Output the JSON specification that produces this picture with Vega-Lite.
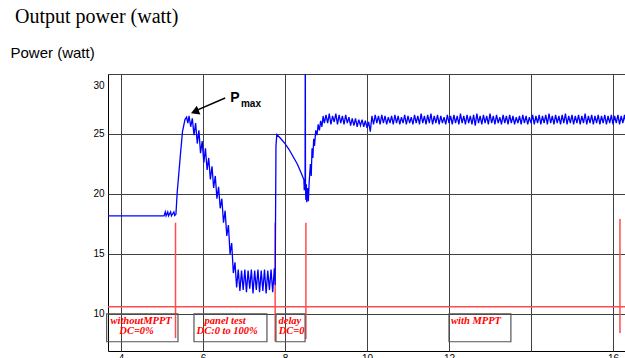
{
  "$schema": "https://vega.github.io/schema/vega-lite/v6.json",
  "width": 517,
  "height": 277,
  "autosize": {"type": "none"},
  "padding": {"left": 108, "top": 74, "right": 0, "bottom": 7},
  "background": "white",
  "title": {
    "text": "Output power (watt)",
    "anchor": "start",
    "frame": "group",
    "font": "Liberation Serif",
    "fontSize": 20,
    "fontWeight": "normal",
    "color": "black",
    "dx": -93,
    "dy": -14
  },
  "config": {
    "view": {"stroke": "black", "strokeWidth": 1},
    "axis": {
      "domain": false,
      "ticks": false,
      "grid": true,
      "gridColor": "#404040",
      "gridOpacity": 1,
      "gridWidth": 1,
      "labelFont": "Liberation Sans",
      "labelFontSize": 10,
      "labelColor": "black"
    }
  },
  "datasets": {
    "power": [
      {"t": 3.68, "p": 18.17}, {"t": 5.05, "p": 18.17}, {"t": 5.08, "p": 18.5}, {"t": 5.1, "p": 18.17},
      {"t": 5.14, "p": 18.5}, {"t": 5.16, "p": 18.17}, {"t": 5.21, "p": 18.5}, {"t": 5.23, "p": 18.17},
      {"t": 5.29, "p": 18.5}, {"t": 5.31, "p": 18.2}, {"t": 5.34, "p": 18.3},
      {"t": 5.37, "p": 20.1}, {"t": 5.44, "p": 22.9}, {"t": 5.5, "p": 25.2}, {"t": 5.56, "p": 26.2},
      {"t": 5.6, "p": 26.4}, {"t": 5.63, "p": 25.9}, {"t": 5.66, "p": 26.5}, {"t": 5.7, "p": 25.6},
      {"t": 5.74, "p": 26.3}, {"t": 5.78, "p": 24.9}, {"t": 5.82, "p": 25.9}, {"t": 5.86, "p": 24.2},
      {"t": 5.9, "p": 25.3}, {"t": 5.94, "p": 23.4}, {"t": 5.98, "p": 24.4}, {"t": 6.02, "p": 22.6},
      {"t": 6.06, "p": 23.8}, {"t": 6.1, "p": 22.0}, {"t": 6.14, "p": 23.0}, {"t": 6.18, "p": 21.2},
      {"t": 6.22, "p": 22.3}, {"t": 6.26, "p": 20.5}, {"t": 6.3, "p": 21.5}, {"t": 6.34, "p": 19.6},
      {"t": 6.38, "p": 20.6}, {"t": 6.42, "p": 18.8}, {"t": 6.46, "p": 19.6}, {"t": 6.5, "p": 17.6},
      {"t": 6.54, "p": 18.6}, {"t": 6.58, "p": 16.5}, {"t": 6.62, "p": 17.4}, {"t": 6.66, "p": 15.0},
      {"t": 6.7, "p": 15.9}, {"t": 6.74, "p": 13.4}, {"t": 6.78, "p": 14.3}, {"t": 6.82, "p": 12.2},
      {"t": 6.86, "p": 13.7}, {"t": 6.9, "p": 11.9}, {"t": 6.94, "p": 13.6}, {"t": 6.98, "p": 12.0},
      {"t": 7.02, "p": 13.7}, {"t": 7.06, "p": 11.8}, {"t": 7.1, "p": 13.6}, {"t": 7.14, "p": 12.1},
      {"t": 7.18, "p": 13.7}, {"t": 7.22, "p": 11.7}, {"t": 7.26, "p": 13.6}, {"t": 7.3, "p": 12.0},
      {"t": 7.34, "p": 13.7}, {"t": 7.38, "p": 11.8}, {"t": 7.42, "p": 13.6}, {"t": 7.46, "p": 11.9},
      {"t": 7.5, "p": 13.7}, {"t": 7.54, "p": 11.7}, {"t": 7.58, "p": 13.6}, {"t": 7.62, "p": 12.0},
      {"t": 7.66, "p": 13.7}, {"t": 7.7, "p": 11.8}, {"t": 7.74, "p": 13.8}, {"t": 7.76, "p": 12.4},
      {"t": 7.78, "p": 24.0}, {"t": 7.8, "p": 24.95}, {"t": 7.9, "p": 24.6}, {"t": 8.0, "p": 24.2},
      {"t": 8.1, "p": 23.7}, {"t": 8.2, "p": 23.1}, {"t": 8.3, "p": 22.5}, {"t": 8.4, "p": 21.7},
      {"t": 8.46, "p": 21.2}, {"t": 8.47, "p": 20.3}, {"t": 8.48, "p": 21.0}, {"t": 8.49, "p": 21.0},
      {"t": 8.495, "p": 35.0}, {"t": 8.5, "p": 20.5}, {"t": 8.51, "p": 19.5}, {"t": 8.52, "p": 20.8},
      {"t": 8.53, "p": 19.3}, {"t": 8.55, "p": 20.5}, {"t": 8.57, "p": 19.4}, {"t": 8.59, "p": 21.0},
      {"t": 8.62, "p": 22.5}, {"t": 8.64, "p": 21.5}, {"t": 8.66, "p": 23.8}, {"t": 8.68, "p": 23.0},
      {"t": 8.7, "p": 24.6}, {"t": 8.72, "p": 24.0}, {"t": 8.75, "p": 25.3}, {"t": 8.78, "p": 24.9},
      {"t": 8.81, "p": 25.8}, {"t": 8.84, "p": 25.3}, {"t": 8.87, "p": 26.1}, {"t": 8.9, "p": 25.6},
      {"t": 8.93, "p": 26.5}, {"t": 8.96, "p": 25.9},
      {"t": 9.0, "p": 26.6}, {"t": 9.04, "p": 25.9}, {"t": 9.08, "p": 26.7}, {"t": 9.12, "p": 25.8},
      {"t": 9.16, "p": 26.5}, {"t": 9.2, "p": 26.0}, {"t": 9.24, "p": 26.7}, {"t": 9.28, "p": 25.8},
      {"t": 9.32, "p": 26.6}, {"t": 9.36, "p": 25.9}, {"t": 9.4, "p": 26.5}, {"t": 9.44, "p": 25.8},
      {"t": 9.48, "p": 26.6}, {"t": 9.52, "p": 25.9}, {"t": 9.56, "p": 26.4}, {"t": 9.6, "p": 25.7},
      {"t": 9.64, "p": 26.3}, {"t": 9.68, "p": 25.7}, {"t": 9.72, "p": 26.3}, {"t": 9.76, "p": 25.6},
      {"t": 9.8, "p": 26.2}, {"t": 9.84, "p": 25.7}, {"t": 9.88, "p": 26.2}, {"t": 9.92, "p": 25.6},
      {"t": 9.96, "p": 26.1}, {"t": 10.0, "p": 25.5}, {"t": 10.04, "p": 26.0}, {"t": 10.08, "p": 25.2},
      {"t": 10.12, "p": 26.5}, {"t": 10.16, "p": 25.8}, {"t": 10.2, "p": 26.6}, {"t": 10.24, "p": 25.9},
      {"t": 10.28, "p": 26.5}, {"t": 10.32, "p": 25.8}, {"t": 10.36, "p": 26.6}, {"t": 10.4, "p": 25.9},
      {"t": 10.44, "p": 26.5}, {"t": 10.48, "p": 25.8}, {"t": 10.52, "p": 26.4}, {"t": 10.56, "p": 25.9},
      {"t": 10.6, "p": 26.5}, {"t": 10.64, "p": 25.8}, {"t": 10.68, "p": 26.6}, {"t": 10.72, "p": 25.9},
      {"t": 10.76, "p": 26.5}, {"t": 10.8, "p": 25.8}, {"t": 10.84, "p": 26.4}, {"t": 10.88, "p": 25.9},
      {"t": 10.92, "p": 26.6}, {"t": 10.96, "p": 25.8}, {"t": 11.0, "p": 26.5}, {"t": 11.04, "p": 25.9},
      {"t": 11.08, "p": 26.4}, {"t": 11.12, "p": 25.8}, {"t": 11.16, "p": 26.6}, {"t": 11.2, "p": 25.9},
      {"t": 11.24, "p": 26.5}, {"t": 11.28, "p": 25.8}, {"t": 11.32, "p": 26.7}, {"t": 11.36, "p": 25.9},
      {"t": 11.4, "p": 26.5}, {"t": 11.44, "p": 25.8}, {"t": 11.48, "p": 26.6}, {"t": 11.52, "p": 25.9},
      {"t": 11.56, "p": 26.7}, {"t": 11.6, "p": 25.8}, {"t": 11.64, "p": 26.5}, {"t": 11.68, "p": 25.9},
      {"t": 11.72, "p": 26.6}, {"t": 11.76, "p": 25.8}, {"t": 11.8, "p": 26.5}, {"t": 11.84, "p": 25.9},
      {"t": 11.88, "p": 26.4}, {"t": 11.92, "p": 25.8}, {"t": 11.96, "p": 26.6}, {"t": 12.0, "p": 25.9},
      {"t": 12.04, "p": 26.5}, {"t": 12.08, "p": 25.8}, {"t": 12.12, "p": 26.6}, {"t": 12.16, "p": 25.9},
      {"t": 12.2, "p": 26.5}, {"t": 12.24, "p": 25.8}, {"t": 12.28, "p": 26.7}, {"t": 12.32, "p": 25.9},
      {"t": 12.36, "p": 26.5}, {"t": 12.4, "p": 25.8}, {"t": 12.44, "p": 26.6}, {"t": 12.48, "p": 25.9},
      {"t": 12.52, "p": 26.5}, {"t": 12.56, "p": 25.8}, {"t": 12.6, "p": 26.6}, {"t": 12.64, "p": 25.7},
      {"t": 12.68, "p": 26.7}, {"t": 12.72, "p": 25.9}, {"t": 12.76, "p": 26.5}, {"t": 12.8, "p": 25.8},
      {"t": 12.84, "p": 26.6}, {"t": 12.88, "p": 25.9}, {"t": 12.92, "p": 26.5}, {"t": 12.96, "p": 25.8},
      {"t": 13.0, "p": 26.7}, {"t": 13.04, "p": 25.9}, {"t": 13.08, "p": 26.5}, {"t": 13.12, "p": 25.8},
      {"t": 13.16, "p": 26.6}, {"t": 13.2, "p": 25.9}, {"t": 13.24, "p": 26.4}, {"t": 13.28, "p": 25.8},
      {"t": 13.32, "p": 26.6}, {"t": 13.36, "p": 25.9}, {"t": 13.4, "p": 26.5}, {"t": 13.44, "p": 25.8},
      {"t": 13.48, "p": 26.6}, {"t": 13.52, "p": 25.9}, {"t": 13.56, "p": 26.5}, {"t": 13.6, "p": 25.8},
      {"t": 13.64, "p": 26.4}, {"t": 13.68, "p": 25.9}, {"t": 13.72, "p": 26.5}, {"t": 13.76, "p": 25.8},
      {"t": 13.8, "p": 26.6}, {"t": 13.84, "p": 25.9}, {"t": 13.88, "p": 26.5}, {"t": 13.92, "p": 25.8},
      {"t": 13.96, "p": 26.4}, {"t": 14.0, "p": 25.9}, {"t": 14.04, "p": 26.6}, {"t": 14.08, "p": 25.8},
      {"t": 14.12, "p": 26.5}, {"t": 14.16, "p": 25.9}, {"t": 14.2, "p": 26.6}, {"t": 14.24, "p": 25.8},
      {"t": 14.28, "p": 26.5}, {"t": 14.32, "p": 25.9}, {"t": 14.36, "p": 26.6}, {"t": 14.4, "p": 25.8},
      {"t": 14.44, "p": 26.7}, {"t": 14.48, "p": 25.9}, {"t": 14.52, "p": 26.5}, {"t": 14.56, "p": 25.8},
      {"t": 14.6, "p": 26.6}, {"t": 14.64, "p": 25.9}, {"t": 14.68, "p": 26.5}, {"t": 14.72, "p": 25.8},
      {"t": 14.76, "p": 26.6}, {"t": 14.8, "p": 25.9}, {"t": 14.84, "p": 26.7}, {"t": 14.88, "p": 25.8},
      {"t": 14.92, "p": 26.5}, {"t": 14.96, "p": 25.9}, {"t": 15.0, "p": 26.6}, {"t": 15.04, "p": 25.8},
      {"t": 15.08, "p": 26.5}, {"t": 15.12, "p": 25.9}, {"t": 15.16, "p": 26.6}, {"t": 15.2, "p": 25.8},
      {"t": 15.24, "p": 26.5}, {"t": 15.28, "p": 25.9}, {"t": 15.32, "p": 26.7}, {"t": 15.36, "p": 25.8},
      {"t": 15.4, "p": 26.5}, {"t": 15.44, "p": 25.9}, {"t": 15.48, "p": 26.6}, {"t": 15.52, "p": 25.8},
      {"t": 15.56, "p": 26.5}, {"t": 15.6, "p": 25.9}, {"t": 15.64, "p": 26.6}, {"t": 15.68, "p": 25.8},
      {"t": 15.72, "p": 26.5}, {"t": 15.76, "p": 25.9}, {"t": 15.8, "p": 26.6}, {"t": 15.84, "p": 25.8},
      {"t": 15.88, "p": 26.5}, {"t": 15.92, "p": 25.9}, {"t": 15.96, "p": 26.6}, {"t": 16.0, "p": 25.8},
      {"t": 16.04, "p": 26.5}, {"t": 16.08, "p": 25.9}, {"t": 16.12, "p": 26.6}, {"t": 16.16, "p": 25.8},
      {"t": 16.2, "p": 26.5}, {"t": 16.24, "p": 25.9}, {"t": 16.28, "p": 26.6}, {"t": 16.32, "p": 25.8}
    ],
    "markers": [
      {"t": 5.33, "p": 17.6, "p2": 7.97},
      {"t": 7.76, "p": 17.6, "p2": 7.7},
      {"t": 8.51, "p": 17.6, "p2": 7.9},
      {"t": 16.17, "p": 17.9, "p2": 8.4}
    ],
    "boxes": [
      {"t": 3.65, "t2": 5.39, "p": 10.0, "p2": 7.67},
      {"t": 5.78, "t2": 7.56, "p": 10.0, "p2": 7.67},
      {"t": 7.78, "t2": 8.49, "p": 10.0, "p2": 7.67},
      {"t": 12.0, "t2": 13.51, "p": 10.0, "p2": 7.67}
    ],
    "notes": [
      {"t": 4.49, "p": 9.44, "label": "withoutMPPT"},
      {"t": 4.38, "p": 8.53, "label": "DC=0%"},
      {"t": 6.54, "p": 9.44, "label": "panel test"},
      {"t": 6.59, "p": 8.53, "label": "DC:0 to 100%"},
      {"t": 8.12, "p": 9.44, "label": "delay"},
      {"t": 8.16, "p": 8.53, "label": "DC=0"},
      {"t": 12.66, "p": 9.44, "label": "with MPPT"}
    ],
    "arrow": [
      {"t": 6.54, "p": 28.0},
      {"t": 5.8, "p": 26.9}
    ]
  },
  "layer": [
    {
      "data": {"values": [{"p": 10.6}]},
      "mark": {"type": "rule", "color": "#ff4d4d", "strokeWidth": 1.5},
      "encoding": {
        "y": {"field": "p", "type": "quantitative", "scale": {"domain": [6.9, 30], "nice": false, "zero": false}}
      }
    },
    {
      "data": {"name": "markers"},
      "mark": {"type": "rule", "color": "#ff4d4d", "strokeWidth": 1.5},
      "encoding": {
        "x": {"field": "t", "type": "quantitative", "scale": {"domain": [3.683, 16.293], "nice": false, "zero": false}},
        "y": {"field": "p", "type": "quantitative", "scale": {"domain": [6.9, 30], "nice": false, "zero": false}},
        "y2": {"field": "p2"}
      }
    },
    {
      "data": {"name": "boxes"},
      "mark": {"type": "rect", "filled": false, "stroke": "#555555", "strokeWidth": 1.2},
      "encoding": {
        "x": {"field": "t", "type": "quantitative", "scale": {"domain": [3.683, 16.293], "nice": false, "zero": false}},
        "x2": {"field": "t2"},
        "y": {"field": "p", "type": "quantitative", "scale": {"domain": [6.9, 30], "nice": false, "zero": false}},
        "y2": {"field": "p2"}
      }
    },
    {
      "data": {"name": "notes"},
      "mark": {"type": "text", "color": "#ff0000", "font": "Liberation Serif", "fontStyle": "italic", "fontWeight": "bold", "fontSize": 10.5, "align": "center", "baseline": "middle"},
      "encoding": {
        "x": {"field": "t", "type": "quantitative", "scale": {"domain": [3.683, 16.293], "nice": false, "zero": false}},
        "y": {"field": "p", "type": "quantitative", "scale": {"domain": [6.9, 30], "nice": false, "zero": false}},
        "text": {"field": "label"}
      }
    },
    {
      "data": {"name": "power"},
      "mark": {"type": "line", "color": "#0000ff", "strokeWidth": 1.3, "clip": true},
      "encoding": {
        "x": {
          "field": "t", "type": "quantitative",
          "scale": {"domain": [3.683, 16.293], "nice": false, "zero": false},
          "axis": {"values": [4, 6, 8, 10, 12, 14, 16], "title": null, "labelPadding": 2, "labelExpr": "datum.value == 14 ? '' : datum.label"}
        },
        "y": {
          "field": "p", "type": "quantitative",
          "scale": {"domain": [6.9, 30], "nice": false, "zero": false},
          "axis": {
            "values": [10, 15, 20, 25, 30],
            "labelPadding": 4,
            "labelFlush": true,
            "labelFlushOffset": -6,
            "title": "Power (watt)",
            "titleAngle": 0,
            "titleX": -98,
            "titleY": -22,
            "titleAlign": "left",
            "titleBaseline": "middle",
            "titleFont": "Liberation Sans",
            "titleFontSize": 15,
            "titleFontWeight": "normal",
            "titleColor": "black"
          }
        }
      }
    },
    {
      "data": {"name": "arrow"},
      "mark": {"type": "line", "color": "black", "strokeWidth": 1.5},
      "encoding": {
        "x": {"field": "t", "type": "quantitative", "scale": {"domain": [3.683, 16.293], "nice": false, "zero": false}},
        "y": {"field": "p", "type": "quantitative", "scale": {"domain": [6.9, 30], "nice": false, "zero": false}}
      }
    },
    {
      "data": {"values": [{"t": 5.8, "p": 26.86}]},
      "mark": {"type": "point", "shape": "triangle-left", "filled": true, "color": "black", "size": 90, "angle": 338, "opacity": 1},
      "encoding": {
        "x": {"field": "t", "type": "quantitative", "scale": {"domain": [3.683, 16.293], "nice": false, "zero": false}},
        "y": {"field": "p", "type": "quantitative", "scale": {"domain": [6.9, 30], "nice": false, "zero": false}}
      }
    },
    {
      "data": {"values": [{"t": 6.78, "p": 28.0, "label": "P", "size": 14}, {"t": 7.17, "p": 27.5, "label": "max", "size": 10}]},
      "mark": {"type": "text", "font": "Liberation Sans", "fontWeight": "bold", "color": "black", "align": "center", "baseline": "middle"},
      "encoding": {
        "x": {"field": "t", "type": "quantitative", "scale": {"domain": [3.683, 16.293], "nice": false, "zero": false}},
        "y": {"field": "p", "type": "quantitative", "scale": {"domain": [6.9, 30], "nice": false, "zero": false}},
        "text": {"field": "label"},
        "size": {"field": "size", "type": "quantitative", "scale": null}
      }
    }
  ]
}
